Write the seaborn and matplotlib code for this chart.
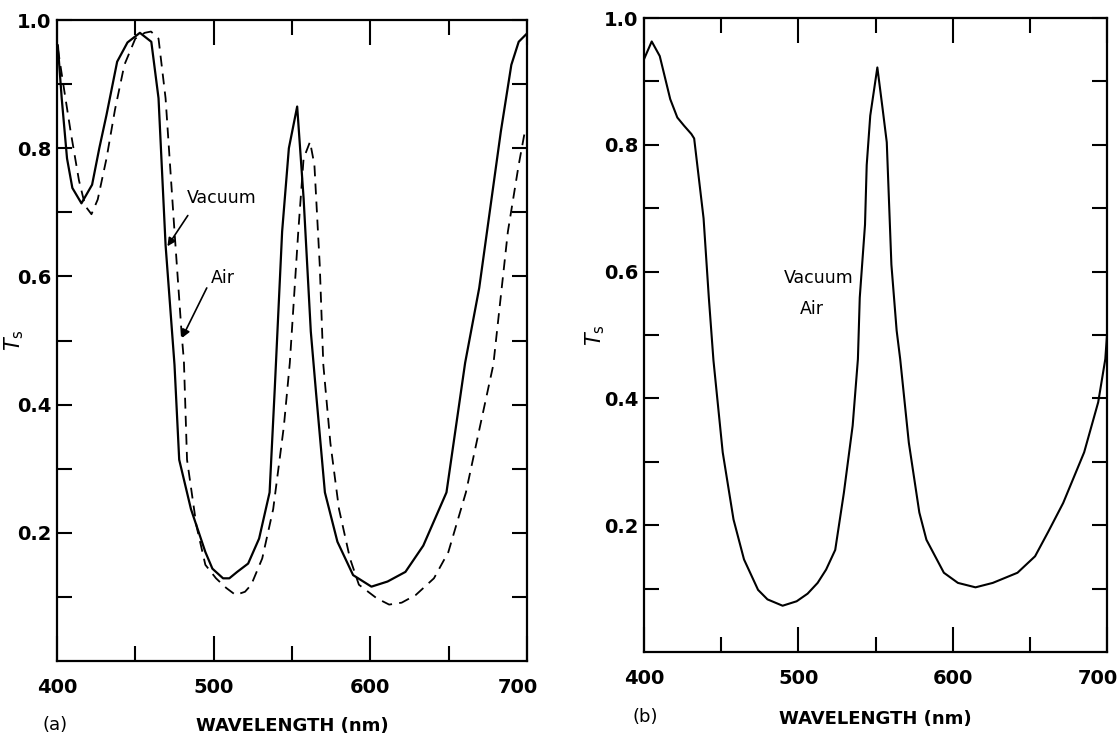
import matplotlib
matplotlib.use("Agg")
import matplotlib.pyplot as plt
from matplotlib.transforms import ScaledTranslation
import seaborn as sns
import pandas as pd

# ---- data (wavelength in nm, transmittance T_s) ----
wl_vac_a = [400.5, 403, 406.4, 409.8, 415.6, 422.4, 427, 431.6, 438.4, 445, 452.9, 460.2,
            464.8, 469.3, 475, 478, 485.5, 494.7, 499.2, 506, 510, 515, 522, 529, 535.7,
            539, 543.7, 548, 553.3, 557.4, 562, 565.4, 571, 579, 589, 600.7, 611, 622.4,
            633.8, 648.6, 660.5, 669.5, 683.3, 690, 694.7, 700]
ts_vac_a = [0.961, 0.878, 0.784, 0.738, 0.714, 0.743, 0.80, 0.852, 0.935, 0.965, 0.980, 0.966,
            0.878, 0.649, 0.462, 0.314, 0.237, 0.170, 0.144, 0.129, 0.129, 0.139, 0.152, 0.191, 0.263,
            0.425, 0.670, 0.800, 0.865, 0.722, 0.514, 0.417, 0.263, 0.186, 0.134, 0.116, 0.124, 0.139,
            0.180, 0.263, 0.465, 0.582, 0.826, 0.93, 0.966, 0.979]

wl_air_a = [400.5, 404, 408.7, 414, 418, 422, 426, 431.6, 437, 443, 450, 456, 460, 464.8,
            469.3, 475, 479.6, 481, 483, 489, 494.7, 501.5, 508, 514, 520, 524, 531, 538,
            544.8, 548.6, 554, 557.4, 561.5, 564.3, 567.7, 570, 574.5, 580, 587, 592.7, 604,
            612, 620, 629, 640.6, 649.8, 661, 670, 678.5, 687.8, 694.7, 699]
ts_air_a = [0.956, 0.90, 0.826, 0.75, 0.71, 0.697, 0.72, 0.784, 0.86, 0.93, 0.971, 0.98, 0.982, 0.971,
            0.878, 0.670, 0.509, 0.468, 0.314, 0.211, 0.150, 0.129, 0.114, 0.103, 0.108, 0.119, 0.160, 0.237,
            0.366, 0.465, 0.67, 0.784, 0.810, 0.774, 0.618, 0.462, 0.340, 0.237, 0.160, 0.119, 0.098,
            0.088, 0.091, 0.103, 0.129, 0.170, 0.263, 0.366, 0.462, 0.670, 0.774, 0.831]

wl_b = [400, 405, 410.2, 417, 421.6, 426, 430.7, 432.5, 438.6, 442, 445, 451, 458, 464.8,
        473.9, 480, 489.8, 498.9, 506, 512.5, 518, 523.9, 529.5, 535.2, 538.6, 539.8, 543.2,
        544.3, 546.6, 551.2, 554.6, 557.3, 560.3, 563.7, 566, 571.6, 578.4, 583, 594.3, 603.4,
        614.8, 626, 642, 653.4, 662, 671.6, 685.2, 694.3, 698.9, 700]
ts_b = [0.935, 0.963, 0.940, 0.872, 0.843, 0.83, 0.817, 0.81, 0.684, 0.559, 0.46, 0.315, 0.209, 0.146,
        0.098, 0.083, 0.073, 0.080, 0.092, 0.109, 0.13, 0.161, 0.251, 0.357, 0.462, 0.559, 0.674,
        0.768, 0.846, 0.922, 0.857, 0.804, 0.611, 0.507, 0.462, 0.330, 0.220, 0.177, 0.125, 0.109,
        0.102, 0.109, 0.125, 0.151, 0.19, 0.235, 0.315, 0.394, 0.462, 0.50]

x_major = [400, 500, 600, 700]
x_minor = [450, 550, 650]
y_major = [0.2, 0.4, 0.6, 0.8, 1.0]
y_minor = [0.1, 0.3, 0.5, 0.7, 0.9]

sns.set_style("ticks")
plt.rcParams["font.family"] = ["DejaVu Sans"]
plt.rcParams["axes.linewidth"] = 1.6
for key in ["text.color", "axes.labelcolor", "xtick.color", "ytick.color", "axes.edgecolor"]:
    plt.rcParams[key] = "black"

fig = plt.figure(figsize=(11.19, 7.36), dpi=100)
ax_a = fig.add_axes([57 / 1119, 1 - 661 / 736, 470 / 1119, 641 / 736])
ax_b = fig.add_axes([644 / 1119, 1 - 652 / 736, 463 / 1119, 634 / 736])

df_vac = pd.DataFrame({"wl": wl_vac_a, "ts": ts_vac_a})
df_air = pd.DataFrame({"wl": wl_air_a, "ts": ts_air_a})
df_b = pd.DataFrame({"wl": wl_b, "ts": ts_b})

sns.lineplot(data=df_vac, x="wl", y="ts", ax=ax_a, color="black", lw=1.6)
sns.lineplot(data=df_air, x="wl", y="ts", ax=ax_a, color="black", lw=1.3,
             linestyle=(0, (6, 4)))
sns.lineplot(data=df_b, x="wl", y="ts", ax=ax_b, color="black", lw=1.5)


def style_axes(ax):
    ax.set_xlim(400, 700)
    ax.set_ylim(0, 1.0)
    ax.set_xticks(x_major)
    ax.set_xticks(x_minor, minor=True)
    ax.set_yticks(y_major)
    ax.set_yticks(y_minor, minor=True)
    ax.set_xticklabels([str(v) for v in x_major], fontsize=14, fontweight="bold")
    ax.set_yticklabels([f"{v:.1f}" for v in y_major], fontsize=14, fontweight="bold")
    ax.tick_params(axis="x", which="major", direction="in", length=18, width=1.5,
                   top=True, bottom=True, pad=12)
    ax.tick_params(axis="x", which="minor", direction="in", length=11, width=1.5,
                   top=True, bottom=True)
    ax.tick_params(axis="y", which="both", direction="in", length=11, width=1.5,
                   left=True, right=True, pad=4)
    ax.set_xlabel("WAVELENGTH (nm)", fontsize=13, fontweight="bold")
    ax.set_ylabel(r"$T_\mathrm{s}$", fontsize=15, rotation=90)
    ax.grid(False)
    # the "700" label sits a little left of its tick in the original
    last = ax.get_xticklabels()[-1]
    last.set_transform(last.get_transform() + ScaledTranslation(-0.09, 0, fig.dpi_scale_trans))


style_axes(ax_a)
style_axes(ax_b)
ax_a.xaxis.set_label_coords(0.5, -0.088)
ax_b.xaxis.set_label_coords(0.5, -0.092)
ax_a.yaxis.set_label_coords(-0.065, 0.5)
ax_b.yaxis.set_label_coords(-0.08, 0.5)

# annotations, panel (a)
arrow = dict(arrowstyle="-|>", color="black", lw=1.2, mutation_scale=12,
             shrinkA=0, shrinkB=0)
ax_a.text(483, 0.722, "Vacuum", fontsize=12.5, ha="left", va="center")
ax_a.annotate("", xy=(470.5, 0.647), xytext=(483.5, 0.695), arrowprops=arrow)
ax_a.text(506, 0.597, "Air", fontsize=12.5, ha="center", va="center")
ax_a.annotate("", xy=(479.8, 0.504), xytext=(495.6, 0.582), arrowprops=arrow)

# annotations, panel (b)
ax_b.text(513, 0.59, "Vacuum", fontsize=12.5, ha="center", va="center")
ax_b.text(509, 0.541, "Air", fontsize=12.5, ha="center", va="center")

fig.text(55 / 1119, 1 - 725 / 736, "(a)", fontsize=13, ha="center", va="center")
fig.text(645 / 1119, 1 - 717 / 736, "(b)", fontsize=13, ha="center", va="center")

fig.savefig("out.png", dpi=100)
